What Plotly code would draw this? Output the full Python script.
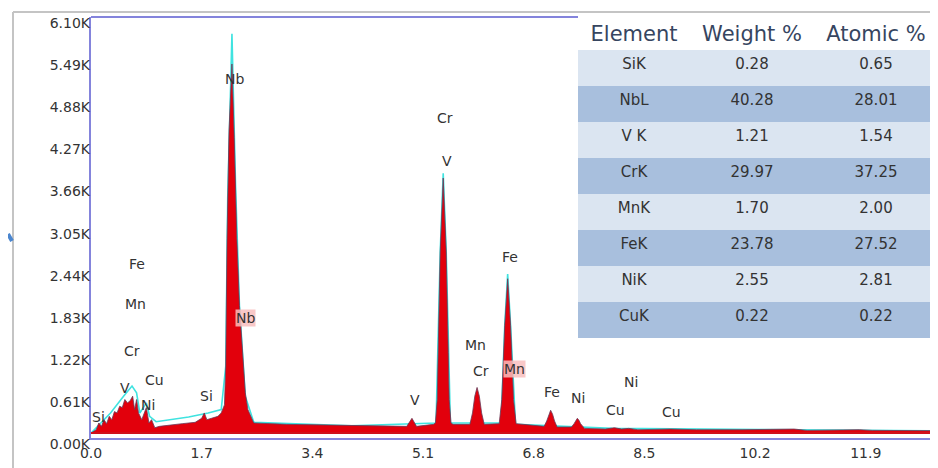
import plotly.graph_objects as go

# ---------------- data ----------------
# EDS spectrum (energy in keV, counts in thousands)
energy_keV = [0.00, 0.08, 0.12, 0.16, 0.20, 0.24, 0.28, 0.32, 0.36, 0.40, 0.44, 0.48,
              0.52, 0.56, 0.60, 0.64, 0.67, 0.70, 0.73, 0.78, 0.85, 0.89, 0.93, 0.98,
              1.05, 1.20, 1.40, 1.60, 1.70, 1.74, 1.78, 1.85, 1.95,
              2.00, 2.05, 2.07, 2.09, 2.12, 2.165, 2.20, 2.24, 2.28, 2.32, 2.37, 2.41,
              2.50, 3.00, 3.50, 4.00, 4.50, 4.85, 4.93, 5.00,
              5.26, 5.29, 5.318, 5.333, 5.364, 5.41, 5.456, 5.487, 5.502, 5.53, 5.56,
              5.82, 5.86, 5.895, 5.93, 5.965, 6.00, 6.04,
              6.27, 6.31, 6.33, 6.355, 6.40, 6.445, 6.47, 6.49, 6.53,
              6.96, 7.00, 7.03, 7.06, 7.09, 7.12, 7.16,
              7.38, 7.42, 7.445, 7.47, 7.495, 7.52, 7.58,
              7.90, 8.04, 8.15, 8.26, 8.40, 8.90, 9.30, 10.00, 10.80, 11.00, 11.80,
              12.00, 13.00]
counts_k = [0.00, 0.05, 0.15, 0.10, 0.20, 0.14, 0.25, 0.20, 0.32, 0.30, 0.40, 0.38,
            0.50, 0.45, 0.48, 0.55, 0.35, 0.50, 0.30, 0.20, 0.38, 0.15, 0.20, 0.08,
            0.10, 0.12, 0.14, 0.16, 0.22, 0.30, 0.20, 0.22, 0.25,
            0.30, 0.42, 1.00, 2.90, 4.50, 5.50, 4.40, 2.90, 1.90, 1.30, 0.60, 0.35,
            0.15, 0.13, 0.12, 0.11, 0.10, 0.10, 0.22, 0.10,
            0.13, 0.15, 0.50, 1.20, 2.70, 3.80, 2.70, 1.20, 0.50, 0.15, 0.13,
            0.13, 0.30, 0.55, 0.68, 0.55, 0.30, 0.13,
            0.14, 0.50, 1.00, 1.60, 2.30, 1.60, 1.00, 0.50, 0.14,
            0.10, 0.18, 0.28, 0.34, 0.28, 0.18, 0.09,
            0.09, 0.14, 0.19, 0.22, 0.19, 0.14, 0.07,
            0.06, 0.08, 0.06, 0.07, 0.05, 0.06, 0.05, 0.05, 0.06, 0.04, 0.05,
            0.04, 0.035]

# cyan overlay line (fit envelope)
envelope_keV = [0.00, 0.10, 0.30, 0.50, 0.63, 0.70, 0.75, 0.85, 0.90, 1.00, 1.20, 1.50,
                1.80, 2.00, 2.07, 2.10, 2.165, 2.22, 2.28, 2.37, 2.50, 4.00, 5.30,
                5.364, 5.41, 5.456, 5.52, 6.30, 6.355, 6.40, 6.445, 6.52, 8.00, 13.00]
envelope_k = [0.00, 0.10, 0.30, 0.55, 0.70, 0.60, 0.30, 0.45, 0.25, 0.17, 0.20, 0.24,
              0.30, 0.35, 1.00, 3.50, 5.95, 3.70, 1.90, 0.55, 0.16, 0.11, 0.15,
              2.70, 3.87, 2.70, 0.15, 0.15, 1.60, 2.37, 1.60, 0.13, 0.07, 0.035]

# element labels on the spectrum
label_text = ["Nb", "Nb", "Cr", "V", "Fe", "Mn", "Cr", "Mn", "Fe", "Ni", "Ni", "Cu", "Cu",
              "V", "Fe", "Mn", "Cr", "Cu", "V", "Ni", "Si", "Si"]
label_keV = [2.21, 2.37, 5.44, 5.47, 6.44, 5.91, 5.99, 6.50, 7.08, 7.48, 8.29, 8.06, 8.92,
             4.98, 0.70, 0.68, 0.63, 0.97, 0.52, 0.88, 0.11, 1.78]
label_k = [5.27, 1.71, 4.69, 4.05, 2.63, 1.31, 0.93, 0.96, 0.61, 0.52, 0.76, 0.34, 0.31,
           0.49, 2.52, 1.93, 1.22, 0.79, 0.67, 0.42, 0.24, 0.55]
label_highlight = [False, True, False, False, False, False, False, True, False, False,
                   False, False, False, False, False, False, False, False, False, False,
                   False, False]

# axis ticks
xtick_vals = [0.0, 1.7, 3.4, 5.1, 6.8, 8.5, 10.2, 11.9]
xtick_text = ["0.0", "1.7", "3.4", "5.1", "6.8", "8.5", "10.2", "11.9"]
ytick_vals = [0.00, 0.61, 1.22, 1.83, 2.44, 3.05, 3.66, 4.27, 4.88, 5.49, 6.10]
ytick_text = ["0.00K", "0.61K", "1.22K", "1.83K", "2.44K", "3.05K", "3.66K", "4.27K",
              "4.88K", "5.49K", "6.10K"]

# quantification table
table_header = ["Element", "Weight %", "Atomic %"]
table_element = ["SiK", "NbL", "V K", "CrK", "MnK", "FeK", "NiK", "CuK"]
table_weight = ["0.28", "40.28", "1.21", "29.97", "1.70", "23.78", "2.55", "0.22"]
table_atomic = ["0.65", "28.01", "1.54", "37.25", "2.00", "27.52", "2.81", "0.22"]

# ---------------- figure ----------------
FONT = "DejaVu Sans"
OFF = 8                      # page body offset of the figure on screen
W, H = 938, 468
ML, MR, MT, MB = 83, 8, 7, 28
plot_w = W - ML - MR
plot_h = H - MT - MB


def px_x(sx):
    """screen x pixel -> paper fraction"""
    return (sx - OFF - ML) / plot_w


def px_y(sy):
    """screen y pixel -> paper fraction"""
    return (H - MB - (sy - OFF)) / plot_h


def clamp(v):
    return max(0.0, min(1.0, v))


fig = go.Figure()

fig.add_trace(go.Scatter(x=envelope_keV, y=envelope_k, mode="lines",
                         line=dict(color="#3fe3e0", width=1.6),
                         hoverinfo="skip", showlegend=False))
fig.add_trace(go.Scatter(x=energy_keV, y=counts_k, mode="lines", fill="tozeroy",
                         fillcolor="#e2000c", line=dict(color="#6a3a58", width=0.8),
                         hoverinfo="skip", showlegend=False))
# carrier for the tick-label axis
fig.add_trace(go.Scatter(x=[None], y=[None], yaxis="y2", showlegend=False,
                         hoverinfo="skip"))

# table
row_fill = ["#dbe5f1" if i % 2 == 0 else "#a8bfdd" for i in range(len(table_element))]
fig.add_trace(go.Table(
    domain=dict(x=[clamp(px_x(578)), clamp(px_x(938))],
                y=[clamp(px_y(350)), clamp(px_y(15))]),
    columnwidth=[112, 124, 124],
    header=dict(values=table_header, fill_color="white",
                line=dict(color="white", width=0), align="center", height=33,
                font=dict(family=FONT, size=21, color="#36455f")),
    cells=dict(values=[table_element, table_weight, table_atomic],
               fill_color=[row_fill] * 3, line=dict(color="#eef3f9", width=0),
               align="center", height=36,
               font=dict(family=FONT, size=15, color="#333333")),
))

annotations = []
for t, x, y, hl in zip(label_text, label_keV, label_k, label_highlight):
    annotations.append(dict(x=x, y=y, xref="x", yref="y", text=t, showarrow=False,
                            font=dict(family=FONT, size=14, color="#333333"),
                            bgcolor="rgba(248,190,190,0.85)" if hl else None,
                            borderpad=0))

shapes = [
    # outer grey frame
    dict(type="line", xref="paper", yref="paper", x0=px_x(13), x1=px_x(938),
         y0=px_y(10), y1=px_y(10), line=dict(color="#c4c4c4", width=2)),
    dict(type="line", xref="paper", yref="paper", x0=px_x(13), x1=px_x(13),
         y0=px_y(10), y1=px_y(476), line=dict(color="#c4c4c4", width=2)),
    # blue plot top border
    dict(type="line", xref="paper", yref="paper", x0=0, x1=px_x(578),
         y0=1.0, y1=1.0, line=dict(color="#8484dc", width=2)),
    # red baseline
    dict(type="line", xref="paper", yref="y", x0=0, x1=1, y0=0, y1=0,
         line=dict(color="#d0101a", width=2)),
    # stray blue stroke on the left
    dict(type="line", xref="paper", yref="paper", x0=px_x(8), x1=px_x(12),
         y0=px_y(233), y1=px_y(240), line=dict(color="#4a86cf", width=4)),
]

fig.update_layout(
    width=W, height=H,
    margin=dict(l=ML, r=MR, t=MT, b=MB),
    paper_bgcolor="white", plot_bgcolor="rgba(0,0,0,0)",
    showlegend=False,
    font=dict(family=FONT, size=14, color="#333333"),
    xaxis=dict(range=[0, 13.01], tickvals=xtick_vals, ticktext=xtick_text,
               showgrid=False, zeroline=False, ticks="", showline=True,
               linecolor="#8484dc", linewidth=2, anchor="y",
               ticklabelstandoff=1,
               tickfont=dict(family=FONT, size=14, color="#333333")),
    yaxis=dict(range=[-0.074, 6.20], domain=[px_y(438), 1.0], showgrid=False,
               zeroline=False, showticklabels=False, ticks="", showline=True,
               linecolor="#8484dc", linewidth=2, anchor="x"),
    yaxis2=dict(range=[(444 - 448) / 69.3, (444 - 15) / 69.3], domain=[0, 1],
                anchor="free", position=0, side="left", showgrid=False,
                zeroline=False, showline=False, ticks="",
                tickvals=ytick_vals, ticktext=ytick_text, ticklabelstandoff=1,
                tickfont=dict(family=FONT, size=14, color="#333333")),
    annotations=annotations,
    shapes=shapes,
)

fig.write_html("out.html")
